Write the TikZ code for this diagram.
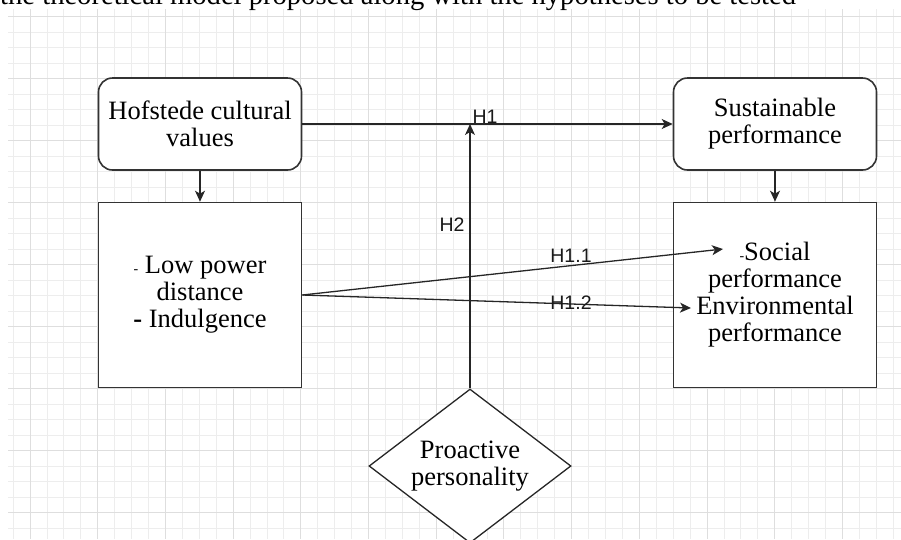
\documentclass[tikz,border=0pt]{standalone}
\usepackage{fontspec}
\setmainfont{Liberation Serif}
\newfontfamily\lblfamily{Liberation Sans}
\usetikzlibrary{shapes.geometric,arrows.meta,calc}
\newcommand\mybfont{\fontsize{26.5}{27}\selectfont}
\newcommand\mycfont{\fontsize{28.6}{29}\selectfont}
\newcommand\mylfont{\lblfamily\fontsize{19.5}{20}\selectfont}
\newcommand\smalldash{{\fontsize{14}{14}\selectfont -}}
\begin{document}
\begin{tikzpicture}[x=1pt,y=-1pt,
  minorline/.style={draw=black!7,line width=0.9pt},
  majorline/.style={draw=black!13,line width=0.9pt},
  rbox/.style={draw=black!80,line width=1.6pt,fill=white,rounded corners=14pt,
    minimum width=203pt,minimum height=92pt,inner sep=0pt,align=center,font=\mybfont},
  sbox/.style={draw=black!80,line width=1.6pt,fill=white,
    minimum width=203pt,minimum height=185pt,inner sep=0pt,align=center,font=\mybfont},
  dbox/.style={diamond,draw=black!85,line width=1.3pt,fill=white,aspect=1.31,
    minimum width=202pt,minimum height=154pt,inner sep=0pt,align=center,font=\mybfont},
  conn/.style={draw=black!85,line width=1.3pt,-{Stealth[length=11pt,width=10pt,inset=3pt]}},
  lbl/.style={font=\mylfont,inner sep=0pt,text=black!90}
]
\useasboundingbox (0,0) rectangle (901,539);
\clip (0,0) rectangle (901,539);
% grid
\foreach \i in {0,...,52} {\draw[minorline] ({13.1+16.925*\i},9) -- ({13.1+16.925*\i},539);}
\foreach \j in {0,...,33} {\draw[minorline] (8,{16.7+15.5*\j}) -- (901,{16.7+15.5*\j});}
\foreach \i in {0,...,12} {\draw[majorline] ({30+67.7*\i},9) -- ({30+67.7*\i},539);}
\foreach \j in {0,...,8} {\draw[majorline] (8,{16.7+62*\j}) -- (901,{16.7+62*\j});}
% caption (cropped at top, as in the reference)
\node[anchor=base west,inner sep=0pt,font=\mycfont] (cap) at (0,4) {the theoretical model proposed along with the hypotheses to be tested};
% nodes
\node[rbox] (hof) at (200,124) {Hofstede cultural\\values};
\node[sbox] (low) at (200,295) {\smalldash\ Low power\\distance\\\textbf{-} Indulgence};
\node[rbox] (sus) at (775,124) {Sustainable\\performance};
\node[sbox] (soc) at (775,295) {\smalldash Social\\performance\\Environmental\\performance};
\node[dbox] (pro) at (470,466) {Proactive\\personality};
\coordinate (h1pt) at (pro.north |- hof.east);
\coordinate (s1) at (723,249);
\coordinate (e1) at (691,308);
% connectors
\draw[conn] (hof.south) -- (low.north);
\draw[conn] (sus.south) -- (soc.north);
\draw[conn] (hof.east) -- (sus.west);
\draw[conn] (pro.north) -- (h1pt);
\draw[conn] (low.east) -- (s1);
\draw[conn] (low.east) -- (e1);
% labels
\node[lbl] (lh1) at (485,116.5) {H1};
\node[lbl] (lh2) at (452,225) {H2};
\node[lbl] (lh11) at (571,256) {H1.1};
\node[lbl] (lh12) at (571,303) {H1.2};
\end{tikzpicture}
\end{document}
